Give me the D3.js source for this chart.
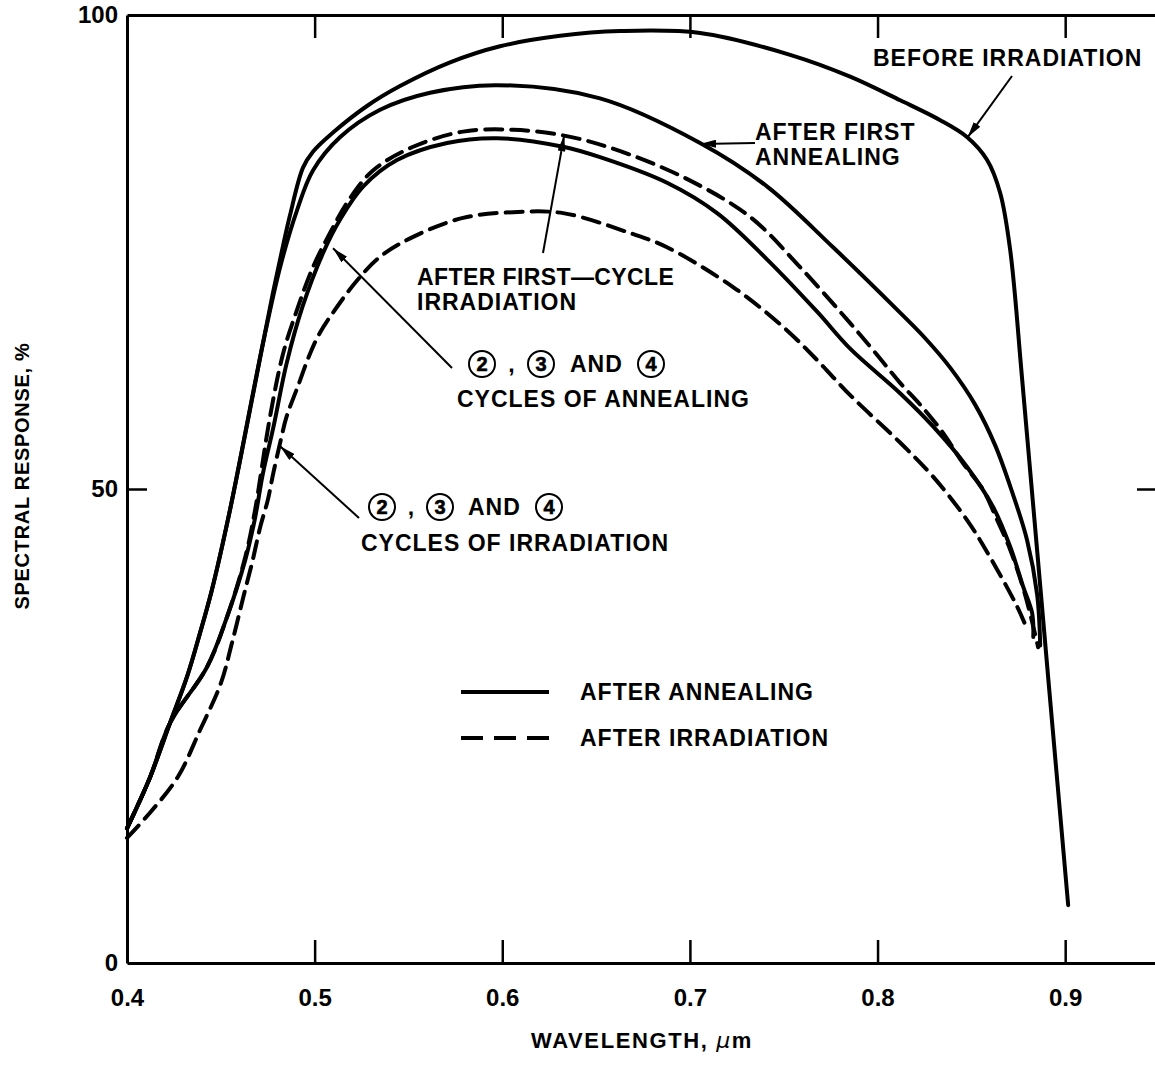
<!DOCTYPE html>
<html>
<head>
<meta charset="utf-8">
<script src="https://cdn.jsdelivr.net/npm/d3@7"></script>
<style>
  body { margin: 0; background: #fff; }
  svg text { font-family: "Liberation Sans", Arial, Helvetica, sans-serif; fill: #000; font-weight: bold; }
</style>
</head>
<body>
<svg id="chart" width="1155" height="1066"></svg>
<script>
// Wavelength (µm) / spectral response (%) readings for each curve.
const beforeIrradiation = [
  [0.4000, 14.2], [0.4123, 19.6], [0.4229, 25.3], [0.4320, 30.2], [0.4389, 34.8],
  [0.4453, 39.4], [0.4549, 47.8], [0.4725, 65.4], [0.4778, 70.7], [0.4832, 75.7],
  [0.4869, 78.9], [0.4938, 83.9], [0.4992, 85.6], [0.5098, 87.6], [0.5279, 90.4],
  [0.5455, 92.5], [0.5722, 95.0], [0.5988, 96.7], [0.6308, 97.8], [0.6628, 98.3],
  [0.7054, 98.1], [0.7534, 95.8], [0.7854, 93.5], [0.8121, 91.0], [0.8334, 88.9],
  [0.8478, 87.1], [0.8584, 84.7], [0.8654, 81.2], [0.8707, 75.2], [0.8771, 61.5],
  [0.8909, 30.2], [0.9016, 6.1]
];
const afterFirstAnnealing = [
  [0.4000, 14.2], [0.4123, 19.6], [0.4229, 25.3], [0.4320, 30.2], [0.4389, 34.8],
  [0.4453, 39.4], [0.4549, 47.8], [0.4725, 65.4], [0.4816, 73.4], [0.4906, 79.4],
  [0.4991, 83.6], [0.5135, 87.1], [0.5349, 90.0], [0.5615, 91.8], [0.5972, 92.6],
  [0.6521, 91.2], [0.7054, 86.5], [0.7412, 81.9], [0.7763, 75.5], [0.8120, 68.6],
  [0.8254, 65.9], [0.8387, 62.8], [0.8520, 58.9], [0.8627, 54.6], [0.8717, 49.7],
  [0.8797, 44.6], [0.8851, 38.8], [0.8867, 33.5]
];
const annealingCycles234 = [
  [0.4000, 14.2], [0.4123, 19.6], [0.4229, 25.3], [0.4426, 31.2], [0.4533, 36.5],
  [0.4630, 42.5], [0.4680, 46.7], [0.4725, 51.7], [0.4780, 56.5], [0.4850, 63.2],
  [0.4935, 69.2], [0.5045, 74.9], [0.5135, 78.4], [0.5258, 81.9], [0.5439, 84.7],
  [0.5706, 86.5], [0.5972, 87.0], [0.6324, 86.1], [0.6521, 85.0], [0.6878, 82.3],
  [0.7145, 79.1], [0.7412, 74.2], [0.7678, 68.7], [0.7854, 64.8], [0.8120, 60.1],
  [0.8296, 56.6], [0.8478, 52.3], [0.8616, 48.1], [0.8707, 43.9], [0.8776, 39.7],
  [0.8824, 36.9], [0.8830, 34.4]
];
const firstCycleIrradiation = [
  [0.4000, 14.2], [0.4123, 19.6], [0.4229, 25.3], [0.4426, 31.2], [0.4533, 36.5],
  [0.4630, 42.8], [0.4680, 47.5], [0.4762, 57.6], [0.4832, 64.3], [0.4906, 68.9],
  [0.4991, 73.4], [0.5082, 77.0], [0.5173, 80.2], [0.5311, 83.6], [0.5525, 86.1],
  [0.5791, 87.7], [0.6058, 87.9], [0.6324, 87.3], [0.6575, 86.0], [0.6964, 82.9],
  [0.7321, 78.7], [0.7587, 73.4], [0.7854, 67.5], [0.7987, 64.4], [0.8120, 61.2],
  [0.8227, 58.9], [0.8350, 55.9], [0.8456, 52.7], [0.8563, 49.9], [0.8638, 46.7],
  [0.8707, 43.6], [0.8787, 38.8], [0.8856, 33.3]
];
const irradiationCycles234 = [
  [0.4000, 13.2], [0.4120, 15.8], [0.4270, 19.6], [0.4390, 24.6], [0.4500, 29.5],
  [0.4560, 33.8], [0.4620, 38.6], [0.4670, 42.5], [0.4710, 46.0], [0.4750, 48.8],
  [0.4780, 51.7], [0.4820, 55.2], [0.4850, 57.6], [0.4910, 60.8], [0.4976, 64.3],
  [0.5029, 66.5], [0.5119, 69.2], [0.5226, 72.0], [0.5349, 74.5], [0.5525, 76.6],
  [0.5791, 78.6], [0.6058, 79.2], [0.6324, 79.1], [0.6681, 77.0], [0.6878, 75.5],
  [0.7230, 71.3], [0.7497, 67.1], [0.7678, 63.6], [0.7854, 59.9], [0.8120, 54.9],
  [0.8296, 51.3], [0.8478, 46.7], [0.8600, 42.8], [0.8744, 37.6], [0.8787, 35.7]
];

const xTickValues = [0.4, 0.5, 0.6, 0.7, 0.8, 0.9];
const xTickLabels = ["0.4", "0.5", "0.6", "0.7", "0.8", "0.9"];
const yTickValues = [0, 50, 100];
const yTickLabels = ["0", "50", "100"];
const legendLabels = ["AFTER ANNEALING", "AFTER IRRADIATION"];

const svg = d3.select("#chart");
const x = d3.scaleLinear().domain([0.4, 0.95]).range([127, 1159]);
const y = d3.scaleLinear().domain([0, 100]).range([963, 15]);

// Frame with inward ticks on all four sides
function styleAxis(g) {
  g.select(".domain").attr("stroke", "#000").attr("stroke-width", 3);
  g.selectAll(".tick line").attr("stroke", "#000").attr("stroke-width", 2.5);
  g.selectAll(".tick text").attr("font-size", 24).attr("font-weight", "bold")
    .attr("font-family", '"Liberation Sans", Arial, sans-serif');
}
svg.append("g").attr("transform", `translate(0,${y(0)})`)
  .call(d3.axisBottom(x).tickValues(xTickValues)
    .tickFormat((d, i) => xTickLabels[i]).tickSizeInner(-23).tickSizeOuter(0).tickPadding(26))
  .call(styleAxis)
  .call(g => g.selectAll(".tick").filter(d => d === 0.4).select("line").remove());
svg.append("g").attr("transform", `translate(0,${y(100)})`)
  .call(d3.axisTop(x).tickValues(xTickValues.slice(1)).tickFormat("").tickSizeInner(-23).tickSizeOuter(0))
  .call(styleAxis);
svg.append("g").attr("transform", `translate(${x(0.4)},0)`)
  .call(d3.axisLeft(y).tickValues(yTickValues)
    .tickFormat((d, i) => yTickLabels[i]).tickSizeInner(-20).tickSizeOuter(0).tickPadding(9))
  .call(styleAxis)
  .call(g => g.selectAll(".tick").filter(d => d !== 50).select("line").remove());
svg.append("g").attr("transform", `translate(${x(0.95)},0)`)
  .call(d3.axisRight(y).tickValues([50]).tickFormat("").tickSizeInner(-22).tickSizeOuter(0))
  .call(styleAxis);

// Axis titles
svg.append("text")
  .attr("transform", `translate(29,476) rotate(-90)`)
  .attr("text-anchor", "middle").attr("font-size", 20).attr("letter-spacing", 0.7)
  .text("SPECTRAL RESPONSE, %");
const xt = svg.append("text").attr("x", 642).attr("y", 1048)
  .attr("text-anchor", "middle").attr("font-size", 22).attr("letter-spacing", 1.6);
xt.append("tspan").text("WAVELENGTH, ");
xt.append("tspan").attr("font-family", '"DejaVu Sans", sans-serif').attr("font-style", "italic")
  .attr("font-weight", "normal").text("\u03BC");
xt.append("tspan").text("m");

// Curves
const line = d3.line().x(d => x(d[0])).y(d => y(d[1])).curve(d3.curveCatmullRom.alpha(0.5));
const curves = [
  { data: beforeIrradiation, dash: null },
  { data: afterFirstAnnealing, dash: null },
  { data: annealingCycles234, dash: null },
  { data: firstCycleIrradiation, dash: "17,9" },
  { data: irradiationCycles234, dash: "17,9" }
];
svg.append("g").selectAll("path").data(curves).join("path")
  .attr("d", c => line(c.data))
  .attr("fill", "none").attr("stroke", "#000").attr("stroke-width", 4)
  .attr("stroke-linecap", "round").attr("stroke-linejoin", "round")
  .attr("stroke-dasharray", c => c.dash);

// Arrowhead
svg.append("defs").append("marker")
  .attr("id", "arrow").attr("viewBox", "0 0 16 8").attr("refX", 16).attr("refY", 4)
  .attr("markerWidth", 16).attr("markerHeight", 8).attr("markerUnits", "userSpaceOnUse")
  .attr("orient", "auto")
  .append("path").attr("d", "M0,0 L16,4 L0,8 Z").attr("fill", "#000");

function arrow(x1, y1, x2, y2) {
  svg.append("line").attr("x1", x1).attr("y1", y1).attr("x2", x2).attr("y2", y2)
    .attr("stroke", "#000").attr("stroke-width", 2).attr("marker-end", "url(#arrow)");
}
function label(lines, x0, yCenters, spacing = 1) {
  lines.forEach((t, i) => {
    svg.append("text").attr("x", x0).attr("y", yCenters[i]).attr("dy", "0.36em")
      .attr("font-size", 23).attr("letter-spacing", spacing).text(t);
  });
}
// "(2) , (3) AND (4)" with the cycle numbers drawn inside circles
function circledLabel(cx2, cx3, xAnd, cx4, yc) {
  const g = svg.append("g");
  [[cx2, "2"], [cx3, "3"], [cx4, "4"]].forEach(([cx, n]) => {
    g.append("circle").attr("cx", cx).attr("cy", yc).attr("r", 13)
      .attr("fill", "none").attr("stroke", "#000").attr("stroke-width", 2);
    g.append("text").attr("x", cx).attr("y", yc).attr("dy", "0.36em")
      .attr("text-anchor", "middle").attr("font-size", 20).attr("font-weight", "normal")
      .attr("stroke", "#000").attr("stroke-width", 0.6).text(n);
  });
  g.append("text").attr("x", (cx2 + cx3) / 2).attr("y", yc + 8)
    .attr("text-anchor", "middle").attr("font-size", 23).text(",");
  g.append("text").attr("x", xAnd).attr("y", yc).attr("dy", "0.36em")
    .attr("font-size", 23).attr("letter-spacing", 1).text("AND");
}

// Annotations
label(["BEFORE IRRADIATION"], 873, [58]);
arrow(1012, 76, x(0.848), y(87.1));
label(["AFTER FIRST", "ANNEALING"], 755, [132, 157]);
arrow(755, 143, x(0.7054), y(86.5) + 1);
label(["AFTER FIRST\u2014CYCLE"], 417, [277], 0.4);
label(["IRRADIATION"], 417, [302]);
arrow(543, 253, x(0.633), y(87.3));
circledLabel(482, 541, 570, 651, 364);
label(["CYCLES OF ANNEALING"], 457, [399]);
arrow(452, 368, x(0.5098), y(75.4));
circledLabel(382, 440, 468, 549, 507);
label(["CYCLES OF IRRADIATION"], 361, [543]);
arrow(359, 518, x(0.4816), y(54.5));

// Legend
const legend = svg.append("g");
const legendStyles = [null, "22,11"];
legendLabels.forEach((t, i) => {
  const ly = 692 + i * 46;
  legend.append("line").attr("x1", 461).attr("x2", 549).attr("y1", ly).attr("y2", ly)
    .attr("stroke", "#000").attr("stroke-width", 4).attr("stroke-dasharray", legendStyles[i]);
  legend.append("text").attr("x", 580).attr("y", ly).attr("dy", "0.36em")
    .attr("font-size", 23).attr("letter-spacing", 1).text(t);
});
</script>
</body>
</html>
